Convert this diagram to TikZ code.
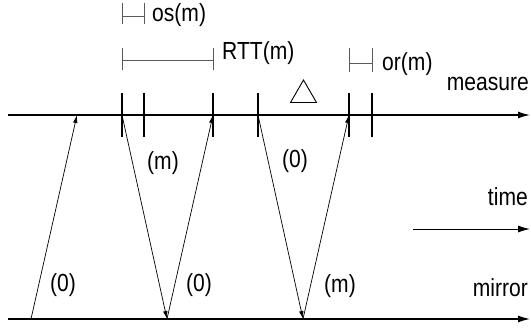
\documentclass[tikz,border=0pt]{standalone}
\usepackage{fontspec}
\usepackage{graphicx}
\setmainfont{Liberation Sans}
\usetikzlibrary{arrows.meta,shapes.geometric}
\newcommand\tallt[1]{\scalebox{0.98}[1.15]{#1}}
\begin{document}
\begin{tikzpicture}[x=1pt,y=-1pt,
  every node/.style={font=\fontsize{21.5}{24}\selectfont, inner sep=0pt},
  axis/.style={line width=1.2pt, -{Latex[length=12pt,width=7pt]}},
  msg/.style={line width=0.7pt, -{Latex[length=8pt,width=4.5pt]}},
  tick/.style={line width=1.2pt},
  brk/.style={line width=0.8pt, draw=black!65},
  lbl/.style={anchor=center}]
\useasboundingbox (0,0) rectangle (531,329);
% main lines
\coordinate (ms) at (8,115);
\coordinate (me) at (530,115);
\coordinate (rs) at (8,319);
\coordinate (re) at (530,319);
\draw[axis] (ms) -- (me);
\draw[axis] (rs) -- (re);
% measure line points
\coordinate (a0) at (31,319);
\coordinate (m1) at (77,115);
\coordinate (m2) at (122,115);
\coordinate (r1) at (167,319);
\coordinate (m3) at (213,115);
\coordinate (m4) at (258,115);
\coordinate (r2) at (303,319);
\coordinate (m5) at (349,115);
% messages
\draw[msg] (a0) -- (m1);
\draw[msg] (m2) -- (r1);
\draw[msg] (r1) -- (m3);
\draw[msg] (m4) -- (r2);
\draw[msg] (r2) -- (m5);
% ticks
\foreach \x/\n in {122/t1,144/t2,213/t3,258/t4,349/t5,372/t6}{
  \coordinate (\n a) at (\x,93);
  \coordinate (\n b) at (\x,137);
  \draw[tick] (\n a) -- (\n b);
}
% brackets
\coordinate (osA) at (122,16); \coordinate (osB) at (144,16);
\draw[brk] (osA) -- (osB);
\draw[brk] (122,3) -- (122,24);
\draw[brk] (144,3) -- (144,24);
\node[anchor=base west] (os) at (152,22) {\tallt{os(m)}};
\coordinate (rtA) at (122,60); \coordinate (rtB) at (213,60);
\draw[brk] (rtA) -- (rtB);
\draw[brk] (122,48) -- (122,70);
\draw[brk] (213,48) -- (213,70);
\node[anchor=base west] (rtt) at (222,60) {\tallt{RTT(m)}};
\coordinate (orA) at (349,63); \coordinate (orB) at (372,63);
\draw[brk] (orA) -- (orB);
\draw[brk] (349,48) -- (349,72);
\draw[brk] (372,48) -- (372,72);
\node[anchor=base west] (or) at (382,71) {\tallt{or(m)}};
% triangle
\node[draw, line width=0.9pt, regular polygon, regular polygon sides=3,
  minimum size=30pt, inner sep=0pt] (delta) at (303.5,95) {};
% axis labels
\node[anchor=base east] (meas) at (529,91) {\tallt{measure}};
\node[anchor=base east] (mirr) at (528,296) {\tallt{mirror}};
\node[anchor=base east] (tim) at (528,205) {\tallt{time}};
\coordinate (ts) at (413,229);
\coordinate (te) at (530,229);
\draw[axis, line width=0.9pt] (ts) -- (te);
% message labels
\node[lbl] (l1) at (63,285) {\tallt{(0)}};
\node[lbl] (l2) at (163,163) {\tallt{(m)}};
\node[lbl] (l3) at (199,285) {\tallt{(0)}};
\node[lbl] (l4) at (295,161) {\tallt{(0)}};
\node[lbl] (l5) at (340,286) {\tallt{(m)}};
\end{tikzpicture}
\end{document}
